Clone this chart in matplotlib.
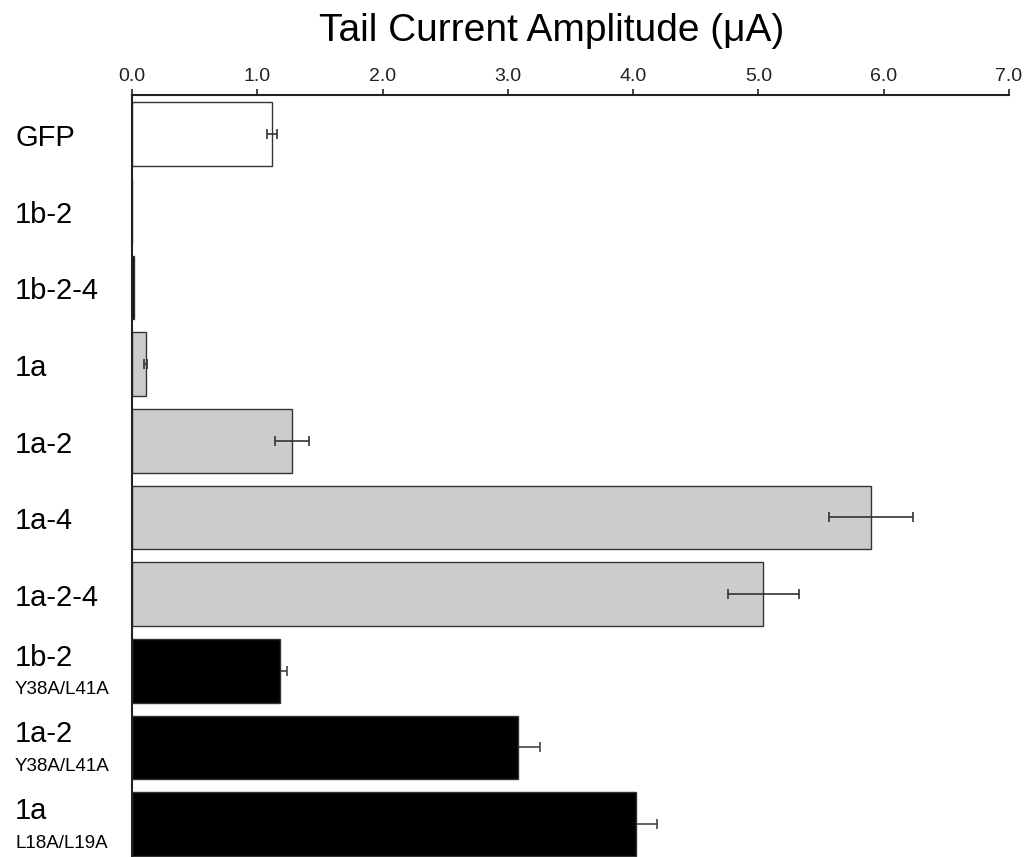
import matplotlib.pyplot as plt

plt.rcParams['font.family'] = ['Liberation Sans', 'DejaVu Sans']

labels = ['GFP', '1b-2', '1b-2-4', '1a', '1a-2', '1a-4', '1a-2-4', '1b-2', '1a-2', '1a']
sublabels = ['', '', '', '', '', '', '', 'Y38A/L41A', 'Y38A/L41A', 'L18A/L19A']
values = [1.115, 0.0, 0.015, 0.11, 1.28, 5.895, 5.04, 1.18, 3.08, 4.02]
errors = [0.04, 0.0, 0.0, 0.012, 0.135, 0.335, 0.28, 0.055, 0.18, 0.17]
colors = ['white', 'black', 'black', '#cccccc', '#cccccc', '#cccccc', '#cccccc',
          'black', 'black', 'black']
xticks = [0, 1, 2, 3, 4, 5, 6, 7]

W, H = 1029, 857
fig = plt.figure(figsize=(W / 100, H / 100), dpi=100)
ax = fig.add_axes([132 / W, 0, (1009 - 132) / W, (H - 95) / H])

pos = list(range(len(values)))
ax.barh(pos, values, height=0.83, color=colors, edgecolor='#333333',
        linewidth=1.0, zorder=2)

# error bars: in front for light bars, behind for the black ones
front = [i for i in pos if colors[i] != 'black']
back = [i for i in pos if colors[i] == 'black']
ax.errorbar([values[i] for i in front], front, xerr=[errors[i] for i in front],
            fmt='none', ecolor='#333333', elinewidth=1.2, capsize=3.5,
            capthick=1.2, zorder=3)
ax.errorbar([values[i] for i in back], back, xerr=[errors[i] for i in back],
            fmt='none', ecolor='#444444', elinewidth=1.2, capsize=3.5,
            capthick=1.2, zorder=1)

ax.set_xlim(0, 7)
ax.set_ylim(9.43, -0.51)
ax.set_xticks(xticks)
ax.set_xticklabels(['%.1f' % t for t in xticks])
ax.xaxis.tick_top()
ax.tick_params(axis='x', direction='out', length=4.5, width=1.2,
               labelsize=14, colors='#222222', pad=3)
ax.set_yticks([])

for s in ['right', 'bottom']:
    ax.spines[s].set_visible(False)
ax.spines['top'].set_linewidth(1.5)
ax.spines['left'].set_linewidth(1.5)
ax.spines['top'].set_color('#222222')
ax.spines['left'].set_color('#222222')

x_lab = -117 / 125.3
for i, (lab, sub) in enumerate(zip(labels, sublabels)):
    if sub:
        ax.text(x_lab, i - 0.17, lab, fontsize=21, ha='left', va='center',
                clip_on=False)
        ax.text(x_lab, i + 0.25, sub, fontsize=13.5, ha='left', va='center',
                clip_on=False)
    else:
        ax.text(x_lab, i + 0.05, lab, fontsize=21, ha='left', va='center',
                clip_on=False)

fig.text(552 / W, 1 - 31 / H, 'Tail Current Amplitude (\u03bcA)',
         fontsize=28, ha='center', va='center')

fig.savefig('out.png', dpi=100)
